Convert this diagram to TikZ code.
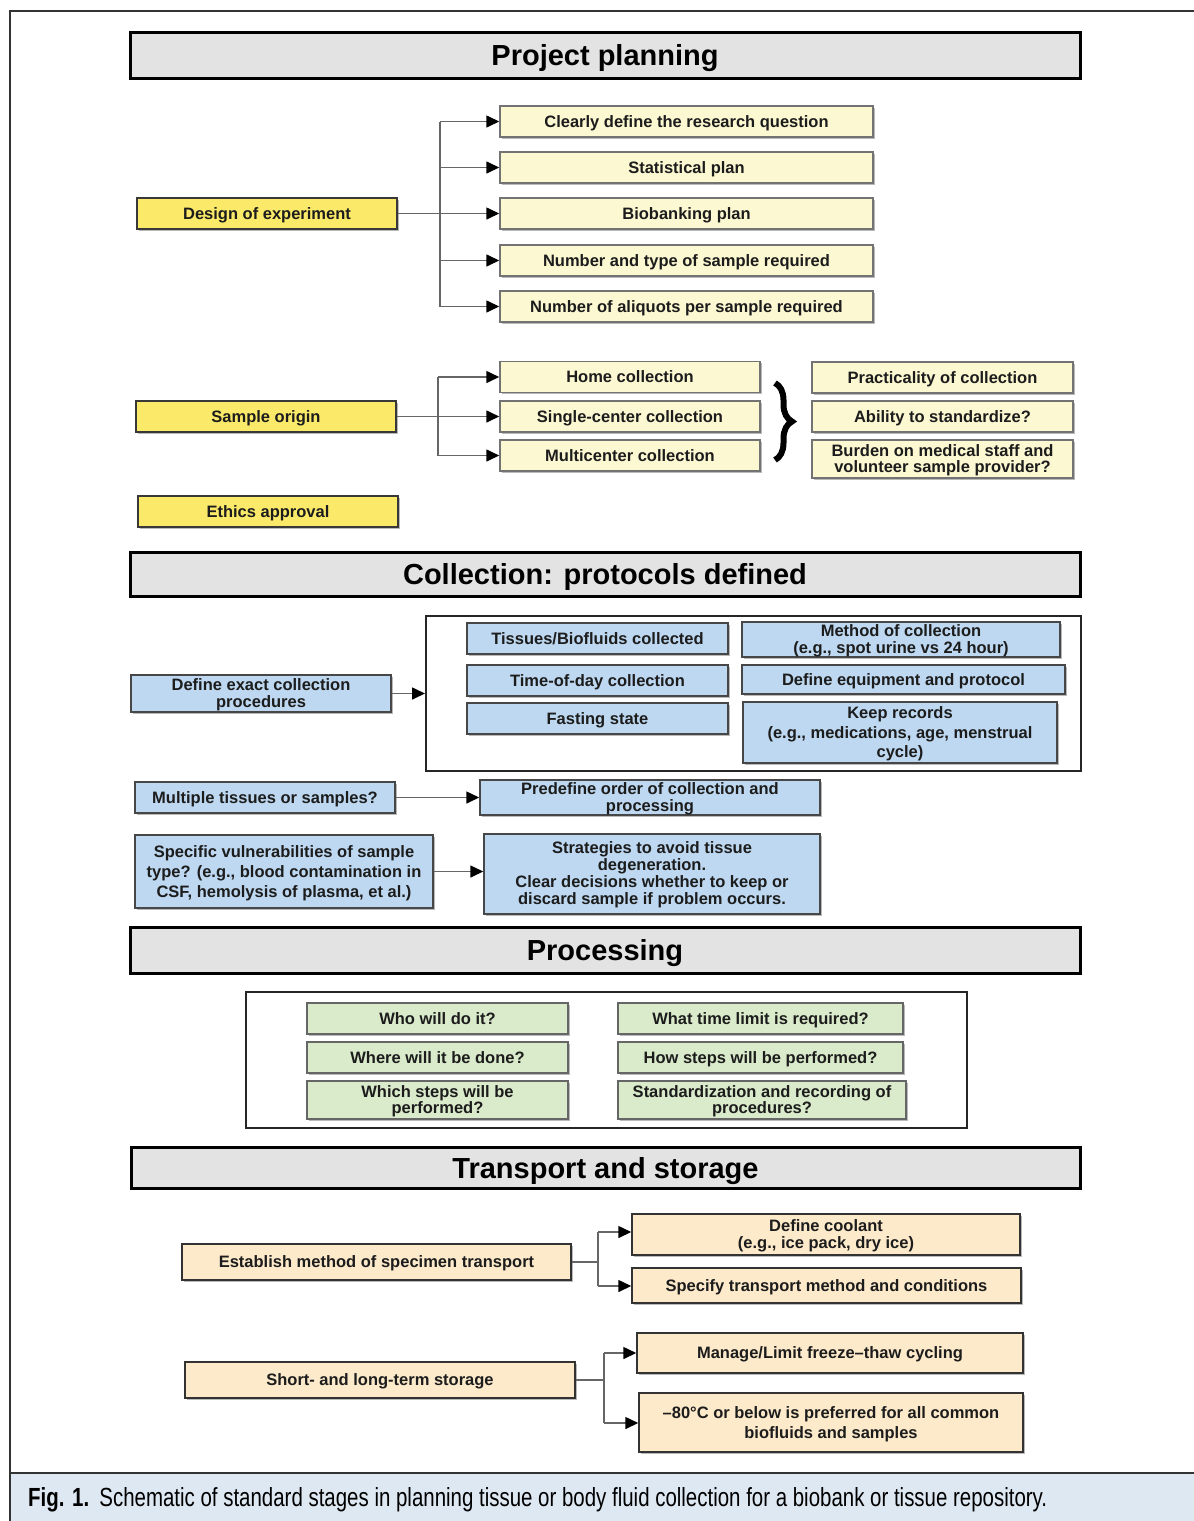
\documentclass[tikz,border=0pt]{standalone}
\usepackage{fontspec}
\setmainfont{Liberation Sans}
\usetikzlibrary{arrows.meta,shadows,decorations.pathreplacing}
\newcommand\fsz[2]{\fontsize{#1pt}{#2pt}\selectfont}
\newcommand\ml[1]{\raisebox{-1.8pt}[\height][\depth]{\begin{tabular}{@{}c@{}}#1\end{tabular}}}
\definecolor{txt}{HTML}{1C1C1C}
\definecolor{hdrfill}{HTML}{E4E3E3}
\definecolor{ybright}{HTML}{FBEA6A}
\definecolor{ylight}{HTML}{FCF8D2}
\definecolor{bfill}{HTML}{BDD8F0}
\definecolor{gfill}{HTML}{DAEBCB}
\definecolor{pfill}{HTML}{FCEACB}
\definecolor{capfill}{HTML}{DEE8F3}
\tikzset{
  base/.style={rectangle, inner sep=0pt, align=center, text=txt,
    font=\bfseries\fsz{16.5}{16}, draw=black!78, line width=1.5pt,
    drop shadow={shadow xshift=1.5pt, shadow yshift=-1.5pt, fill=black!50, opacity=0.55}},
  sl/.style={text height=12.8pt, text depth=1pt},
  hdr/.style={rectangle, inner sep=0pt, text=black, font=\bfseries\fsz{29}{32},
    text height=22pt, text depth=1pt,
    fill=hdrfill, draw=black, line width=3pt,
    drop shadow={shadow xshift=2pt, shadow yshift=-2pt, fill=black!50, opacity=0.5}},
  ybox/.style={base, fill=ybright},
  lybox/.style={base, fill=ylight, draw=black!55},
  bbox/.style={base, fill=bfill, draw=black!72},
  gbox/.style={base, fill=gfill, draw=black!60},
  pbox/.style={base, fill=pfill, draw=black!80},
  group/.style={rectangle, inner sep=0pt, draw=black!85, line width=2pt},
  conn/.style={draw=black!60, line width=1.6pt},
  arr/.style={conn, -{Triangle[length=13pt,width=12pt,color=black]}},
}
\begin{document}
\begin{tikzpicture}[x=1pt,y=-1pt]
\useasboundingbox (0,0) rectangle (1194,1521);
% frame and caption band
\fill[capfill] (10,1473) rectangle (1194,1521);
\draw[line width=2pt, black!80] (10,1521) -- (10,11) -- (1194,11);
\draw[line width=2pt, black!80] (10,1473) -- (1194,1473);
\node[anchor=base west, inner sep=0pt, text=black] (cap) at (28,1506)
  {\resizebox{1019pt}{19pt}{\textbf{Fig. 1.}\hspace{0.5em}Schematic of standard stages in planning tissue or body fluid collection for a biobank or tissue repository.}};

% headers
\node[hdr, minimum width=950, minimum height=46] (h1) at (605,55) {Project planning};
\node[hdr, minimum width=950, minimum height=44] (h2) at (605,574) {Collection: protocols defined};
\node[hdr, minimum width=950, minimum height=46] (h3) at (605,950) {Processing};
\node[hdr, minimum width=949, minimum height=41] (h4) at (605.5,1167.5) {Transport and storage};

% ---- Project planning
\node[ybox, sl, minimum width=260, minimum height=31] (doe) at (267,213.5) {Design of experiment};
\node[ybox, sl, minimum width=260, minimum height=31] (so) at (266,416.5) {Sample origin};
\node[ybox, sl, minimum width=260, minimum height=31] (eth) at (268,511.5) {Ethics approval};

\node[lybox, sl, minimum width=373, minimum height=31] (c1) at (686.5,121.5) {Clearly define the research question};
\node[lybox, sl, minimum width=373, minimum height=31] (c2) at (686.5,167.5) {Statistical plan};
\node[lybox, sl, minimum width=373, minimum height=31] (c3) at (686.5,213.5) {Biobanking plan};
\node[lybox, sl, minimum width=373, minimum height=31] (c4) at (686.5,260.5) {Number and type of sample required};
\node[lybox, sl, minimum width=373, minimum height=31] (c5) at (686.5,306.5) {Number of aliquots per sample required};

\node[lybox, sl, minimum width=260, minimum height=31] (s1) at (630,377) {Home collection};
\node[lybox, sl, minimum width=260, minimum height=31] (s2) at (630,416.5) {Single-center collection};
\node[lybox, sl, minimum width=260, minimum height=31] (s3) at (630,455.5) {Multicenter collection};

\node[lybox, sl, minimum width=261, minimum height=31] (r1) at (942.5,377.5) {Practicality of collection};
\node[lybox, sl, minimum width=261, minimum height=31] (r2) at (942.5,416.5) {Ability to standardize?};
\node[lybox, minimum width=261, minimum height=38, font=\bfseries\fsz{16.5}{15}] (r3) at (942.5,459) {\ml{Burden on medical staff and\\volunteer sample provider?}};

\draw[line width=6pt, black, decorate, decoration={brace, amplitude=17pt}] (775,383) -- (775,460);

\coordinate (t1) at (440,0);
\draw[conn] (doe.east) -- (doe.east -| t1);
\draw[conn] (t1 |- c1) -- (t1 |- c5);
\foreach \n in {c1,c2,c3,c4,c5} \draw[arr] (t1 |- \n) -- (\n.west);

\coordinate (t2) at (438,0);
\draw[conn] (so.east) -- (so.east -| t2);
\draw[conn] (t2 |- s1) -- (t2 |- s3);
\foreach \n in {s1,s2,s3} \draw[arr] (t2 |- \n) -- (\n.west);

% ---- Collection
\node[group, minimum width=655, minimum height=155] (cbox) at (753.5,693.5) {};
\node[bbox, sl, minimum width=261, minimum height=31] (b1) at (597.5,638.5) {Tissues/Biofluids collected};
\node[bbox, sl, minimum width=261, minimum height=31] (b2) at (597.5,680.5) {Time-of-day collection};
\node[bbox, sl, minimum width=261, minimum height=31] (b3) at (597.5,718.5) {Fasting state};
\node[bbox, minimum width=318, minimum height=35] (b4) at (901,639.5) {\ml{Method of collection\\(e.g., spot urine vs 24 hour)}};
\node[bbox, sl, minimum width=323, minimum height=29] (b5) at (903.5,679.5) {Define equipment and protocol};
\node[bbox, minimum width=314, minimum height=61, font=\bfseries\fsz{16.5}{19.5}] (b6) at (900,732.5) {\ml{Keep records\\(e.g., medications, age, menstrual\\cycle)}};

\node[bbox, minimum width=260, minimum height=37] (def) at (261,693.5) {\ml{Define exact collection\\procedures}};
\node[bbox, sl, minimum width=260, minimum height=31] (mult) at (265,797.5) {Multiple tissues or samples?};
\node[bbox, minimum width=340, minimum height=35] (pre) at (650,797.5) {\ml{Predefine order of collection and\\processing}};
\node[bbox, minimum width=298, minimum height=73, font=\bfseries\fsz{16.5}{20}] (spec) at (284,871.5) {\ml{Specific vulnerabilities of sample\\type? (e.g., blood contamination in\\CSF, hemolysis of plasma, et al.)}};
\node[bbox, minimum width=336, minimum height=80, font=\bfseries\fsz{16.5}{17}] (strat) at (652,874) {\ml{Strategies to avoid tissue\\degeneration.\\Clear decisions whether to keep or\\discard sample if problem occurs.}};

\draw[arr] (def.east) -- (def.east -| cbox.west);
\draw[arr] (mult.east) -- (pre.west);
\draw[arr] (spec.east) -- (spec.east -| strat.west);

% ---- Processing
\node[group, minimum width=721, minimum height=136] (pbox) at (606.5,1060) {};
\node[gbox, sl, minimum width=261, minimum height=31] (g1) at (437.5,1018.5) {Who will do it?};
\node[gbox, sl, minimum width=261, minimum height=31] (g2) at (437.5,1057.5) {Where will it be done?};
\node[gbox, minimum width=261, minimum height=38] (g3) at (437.5,1100) {\ml{Which steps will be\\performed?}};
\node[gbox, sl, minimum width=285, minimum height=31] (g4) at (760.5,1018.5) {What time limit is required?};
\node[gbox, sl, minimum width=285, minimum height=31] (g5) at (760.5,1057.5) {How steps will be performed?};
\node[gbox, minimum width=288, minimum height=38] (g6) at (762,1100) {\ml{Standardization and recording of\\procedures?}};

% ---- Transport and storage
\node[pbox, sl, minimum width=389, minimum height=36] (est) at (376.5,1262) {Establish method of specimen transport};
\node[pbox, minimum width=388, minimum height=41, font=\bfseries\fsz{16.5}{17}] (cool) at (826,1234.5) {\ml{Define coolant\\(e.g., ice pack, dry ice)}};
\node[pbox, sl, minimum width=389, minimum height=35] (stm) at (826.5,1285.5) {Specify transport method and conditions};
\node[pbox, sl, minimum width=390, minimum height=36] (sto) at (380,1380) {Short- and long-term storage};
\node[pbox, sl, minimum width=386, minimum height=40] (man) at (830,1353) {Manage/Limit freeze–thaw cycling};
\node[pbox, minimum width=384, minimum height=59, font=\bfseries\fsz{16.5}{20}] (m80) at (831,1422.5) {\ml{–80°C or below is preferred for all common\\biofluids and samples}};

\coordinate (t3) at (598,0);
\coordinate (ya) at (0,1232);
\coordinate (yb) at (0,1286);
\draw[conn] (est.east) -- (est.east -| t3);
\draw[conn] (t3 |- ya) -- (t3 |- yb);
\draw[arr] (t3 |- ya) -- (ya -| cool.west);
\draw[arr] (t3 |- yb) -- (yb -| stm.west);

\coordinate (t4) at (604,0);
\coordinate (yc) at (0,1353);
\coordinate (yd) at (0,1423);
\draw[conn] (sto.east) -- (sto.east -| t4);
\draw[conn] (t4 |- yc) -- (t4 |- yd);
\draw[arr] (t4 |- yc) -- (yc -| man.west);
\draw[arr] (t4 |- yd) -- (yd -| m80.west);
\end{tikzpicture}
\end{document}
